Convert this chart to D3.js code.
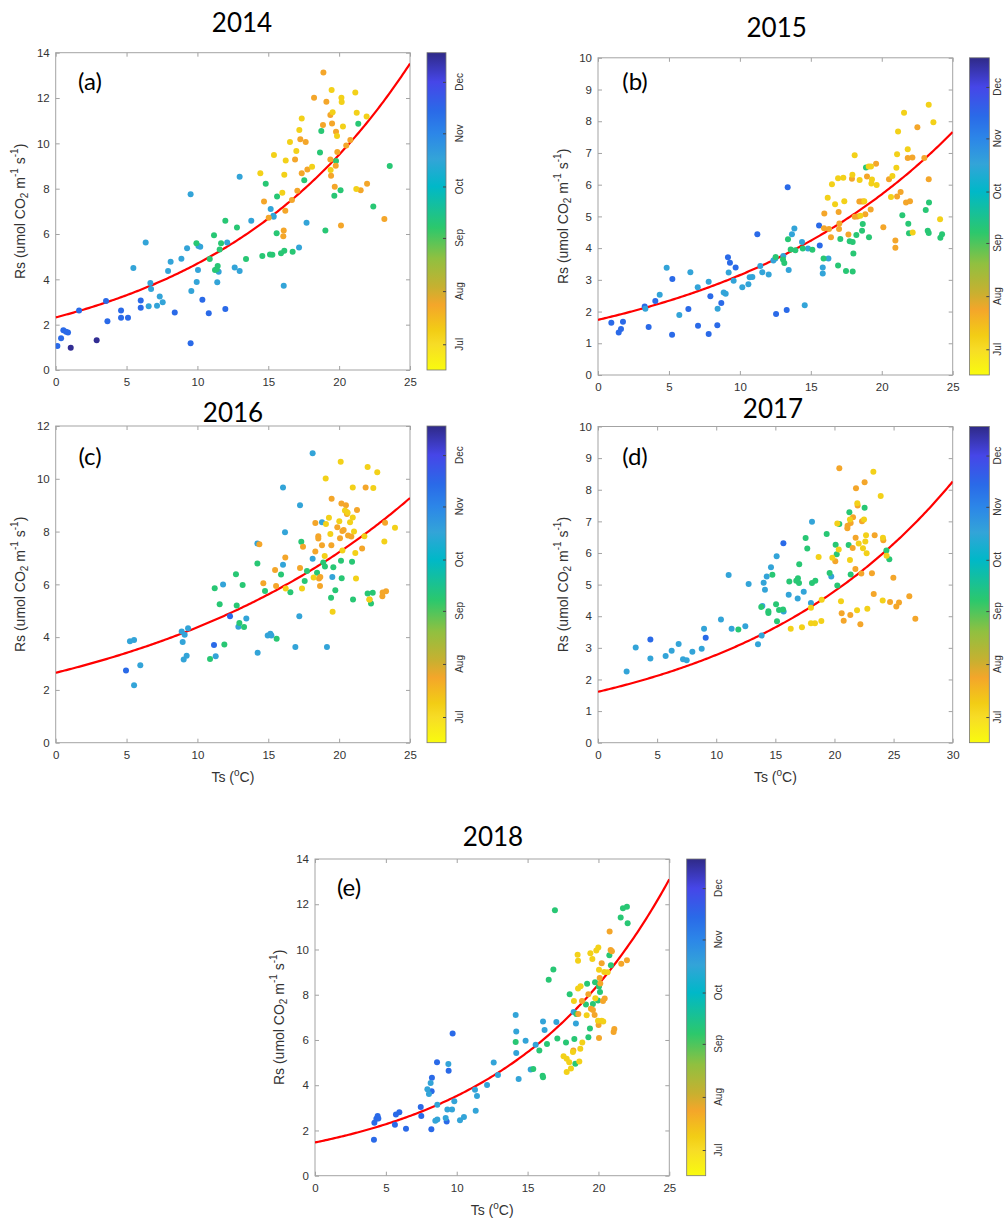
<!DOCTYPE html>
<html><head><meta charset="utf-8">
<script src="https://cdn.jsdelivr.net/npm/d3@7"></script>
<style>body{margin:0;background:#fff}svg{display:block}</style>
</head><body>
<script>
// ---------------- DATA ----------------
const years = ["2014","2015","2016","2017","2018"];
const panelLetters = ["(a)","(b)","(c)","(d)","(e)"];
const monthLabels = ["Jul","Aug","Sep","Oct","Nov","Dec"];
const monthStartDoy = [182,213,244,274,305,335];
const doyRange = [167,352];
const cmapDoy = [167,182,190,205,215,232,250,274,290,305,318,335,352];
const cmapHex = ["#f9fb0e","#f7dc26","#f2cd15","#f4a62a","#c8b030","#90c040","#2cc86c","#00b8c8","#33a4d8","#2c86e8","#2a6ae8","#4646e8","#2f2a88"];
const fitA = [2.32,1.74,2.65,1.61,1.47];
const fitB = [0.0705,0.0593,0.0501,0.0545,0.0875];
const xMax = [25,25,25,30,25];
const yMax = [14,10,12,10,14];
const yStep = [2,1,2,1,2];

// [Ts, Rs, day-of-year]
const pts2014 = [
[0.12,1.06,318],[0.38,1.40,318],[0.54,1.75,318],[0.73,1.69,318],[0.87,1.65,318],[1.06,0.98,350],[1.65,2.62,318],[2.89,1.31,350],[3.55,3.04,318],[3.65,2.15,318],[4.61,2.62,318],[4.61,2.31,318],[5.10,2.31,318],[6.00,3.07,318],[6.00,2.75,318],[8.40,2.54,318],[9.52,1.18,318],[10.35,3.10,318],[10.80,2.50,318],[11.97,2.69,318],
[5.48,4.50,290],[6.35,5.63,290],[6.68,3.84,290],[6.73,3.57,290],[6.56,2.81,290],[7.15,2.84,290],[7.34,3.24,290],[7.55,2.99,290],[7.93,4.37,290],[8.11,4.78,290],[8.87,4.91,290],[9.27,5.37,290],[9.52,7.76,290],[9.57,3.49,290],[9.95,3.88,290],[10.07,5.47,290],[10.20,5.44,290],[10.04,4.41,290],[11.40,3.87,290],[11.50,4.34,290],[12.10,5.63,290],[12.63,4.52,290],[12.98,4.37,290],[12.98,8.53,290],[13.80,6.59,290],[15.17,7.10,290],[15.36,6.81,290],[15.38,6.76,290],[16.09,3.72,290],[17.17,5.41,290],[17.70,6.50,290],
[9.93,5.59,252],[10.87,4.90,252],[11.17,5.94,252],[11.24,4.41,252],[11.36,4.44,252],[11.43,4.59,252],[11.57,5.32,252],[11.67,5.59,252],[11.97,6.59,252],[12.79,6.29,252],[13.43,4.90,252],[14.58,5.03,252],[14.82,8.22,252],[15.12,5.10,252],[15.29,5.09,252],[15.59,6.03,252],[15.62,7.65,252],[15.90,5.15,252],[16.13,5.26,252],[16.72,5.22,252],[17.54,8.37,252],[18.65,9.60,252],[18.74,10.54,252],[19.03,6.15,252],[19.66,7.69,252],[19.78,9.22,252],[20.10,7.93,252],[21.35,10.87,252],[22.41,7.21,252],[23.57,9.00,252],
[14.70,7.43,205],[15.03,6.72,205],[16.20,7.03,205],[16.09,6.16,205],[16.06,5.90,205],[16.67,7.50,205],[16.89,9.29,205],[17.05,7.91,205],[17.26,10.18,205],[17.36,8.68,205],[17.64,10.06,205],[17.76,8.85,205],[18.23,12.01,205],[18.89,13.13,205],[18.86,10.81,205],[19.10,11.84,205],[19.38,11.25,205],[19.43,8.57,205],[19.50,10.88,205],[19.38,9.29,205],[19.69,8.09,205],[19.76,9.01,205],[19.78,10.51,205],[19.87,9.62,205],[20.13,6.38,205],[20.50,9.91,205],[20.79,10.15,205],[21.52,7.93,205],[21.97,8.22,205],[23.19,6.66,205],
[14.44,8.68,188],[15.40,9.49,188],[15.99,7.82,188],[16.13,8.62,188],[16.23,9.24,188],[16.53,10.06,188],[16.98,9.66,188],[17.19,10.59,188],[17.36,11.10,188],[18.09,8.97,188],[19.47,12.35,188],[19.54,11.37,188],[19.40,8.82,188],[19.85,10.32,188],[20.16,12.01,188],[20.18,11.82,188],[20.27,10.74,188],[21.14,12.24,188],[21.24,11.35,188],[21.21,7.99,188],[21.94,11.19,188]
];
const pts2015 = [
[0.94,1.65,318],[1.46,1.34,318],[1.62,1.45,318],[1.76,1.68,318],[3.29,2.16,318],[3.57,1.51,318],[4.04,2.33,318],[5.22,1.27,318],[5.24,3.03,318],[6.37,2.08,318],[7.05,1.55,318],[7.80,1.29,318],[7.92,2.48,318],[8.41,1.57,318],[8.69,2.27,318],[9.16,3.71,318],[9.30,3.54,318],[9.70,3.39,318],[11.23,4.44,318],[12.55,1.92,318],[13.30,2.05,318],[13.37,5.92,318],[15.58,4.71,318],[15.63,4.08,318],
[3.34,2.09,290],[4.35,2.53,290],[4.84,3.38,290],[5.73,1.89,290],[6.51,3.24,290],[7.03,2.77,290],[7.80,2.94,290],[8.43,2.09,290],[8.86,2.60,290],[9.00,2.56,290],[9.21,3.23,290],[9.56,2.97,290],[10.17,2.77,290],[10.60,2.86,290],[10.69,3.08,290],[10.88,3.09,290],[11.44,3.44,290],[11.58,3.24,290],[12.03,3.17,290],[12.36,3.61,290],[12.50,3.67,290],[13.06,3.75,290],[13.44,3.31,290],[13.67,4.44,290],[13.84,4.62,290],[14.38,4.19,290],[14.57,2.20,290],[14.80,3.99,290],[15.84,3.39,290],[15.84,3.20,290],[16.24,3.67,290],
[12.52,3.72,252],[13.04,3.64,252],[13.13,3.53,252],[13.39,4.28,252],[13.58,3.96,252],[13.91,3.93,252],[14.43,3.99,252],[15.11,3.95,252],[15.90,3.67,252],[16.92,3.45,252],[17.08,4.29,252],[17.48,3.28,252],[17.74,4.22,252],[17.95,4.19,252],[17.95,3.26,252],[18.00,3.83,252],[18.21,4.41,252],[18.61,4.55,252],[18.66,4.76,252],[18.89,6.54,252],[19.10,4.34,252],[21.45,5.04,252],[21.87,4.77,252],[21.92,4.47,252],[23.10,5.20,252],[23.24,4.55,252],[23.31,4.48,252],[23.33,5.44,252],[24.13,4.33,252],[24.25,4.44,252],
[15.95,5.09,205],[15.93,4.63,205],[16.28,4.60,205],[16.42,4.34,205],[16.96,5.14,205],[16.99,4.60,205],[17.01,4.78,205],[17.65,4.43,205],[17.90,6.19,205],[18.09,4.99,205],[18.28,5.00,205],[18.42,5.47,205],[18.56,5.47,205],[18.70,5.47,205],[18.84,5.07,205],[18.96,6.26,205],[19.22,5.22,205],[19.60,6.66,205],[20.11,4.66,205],[20.51,6.17,205],[20.96,4.01,205],[20.96,4.24,205],[21.08,5.63,205],[21.33,5.77,205],[21.71,5.44,205],[21.83,6.84,205],[21.99,5.48,205],[22.16,6.86,205],[22.51,7.81,205],[23.00,6.84,205],[23.31,6.17,205],
[16.19,5.59,188],[16.49,6.01,188],[16.71,5.38,188],[16.92,6.20,188],[17.29,6.22,188],[17.36,5.48,188],[17.93,6.31,188],[18.09,6.93,188],[18.44,6.15,188],[18.49,5.02,188],[18.77,5.48,188],[19.08,6.57,188],[19.24,6.57,188],[19.31,6.16,188],[19.27,6.04,188],[19.64,5.99,188],[20.65,5.61,188],[20.75,6.27,188],[21.03,6.53,188],[21.08,6.96,188],[21.15,7.68,188],[21.57,8.27,188],[21.83,7.12,188],[22.18,4.49,188],[23.31,8.52,188],[23.64,7.97,188],[24.11,4.91,188]
];
const pts2016 = [
[4.96,2.74,318],[11.17,3.70,318],[12.30,4.79,318],
[5.24,3.84,290],[5.53,3.89,290],[5.53,2.18,290],[5.97,2.93,290],[8.89,4.21,290],[9.10,4.09,290],[8.96,3.82,290],[9.34,4.34,290],[9.03,3.15,290],[9.24,3.29,290],[11.29,3.28,290],[11.81,5.99,290],[12.89,4.39,290],[13.45,4.71,290],[14.23,7.55,290],[14.25,3.41,290],[14.96,4.06,290],[15.15,4.13,290],[15.22,4.06,290],[16.04,9.67,290],[16.04,6.74,290],[16.18,7.97,290],[16.91,3.63,290],[17.24,9.00,290],[17.19,4.79,290],[18.13,10.97,290],[18.13,6.97,290],[18.79,8.35,290],[19.14,3.63,290],[19.52,6.28,290],
[10.89,3.17,252],[11.22,5.85,252],[11.57,5.25,252],[11.90,3.72,252],[12.72,6.38,252],[12.77,5.20,252],[12.96,4.54,252],[13.19,5.98,252],[13.29,4.38,252],[14.23,6.79,252],[14.77,5.75,252],[15.59,3.94,252],[15.90,6.37,252],[16.56,5.70,252],[17.33,7.61,252],[17.57,6.13,252],[17.73,6.51,252],[18.44,6.44,252],[18.88,6.83,252],[19.00,6.68,252],[19.43,5.49,252],[19.59,6.65,252],[19.73,5.78,252],[20.13,6.89,252],[20.18,6.23,252],[20.91,6.86,252],[20.98,5.43,252],[22.01,5.65,252],[22.25,5.27,252],[22.37,5.68,252],
[14.37,7.52,205],[14.65,6.04,205],[15.48,6.54,205],[15.55,5.94,205],[16.20,7.02,205],[17.24,6.62,205],[17.45,7.42,205],[18.32,7.24,205],[18.32,8.32,205],[18.53,7.82,205],[18.53,7.74,205],[18.58,6.22,205],[18.67,6.28,205],[18.65,5.94,205],[18.79,7.48,205],[19.47,9.24,205],[19.45,7.48,205],[19.87,8.16,205],[20.06,7.75,205],[20.16,9.06,205],[20.23,8.02,205],[20.32,8.06,205],[20.48,9.00,205],[20.53,8.74,205],[20.55,8.67,205],[20.63,7.85,205],[20.86,7.81,205],[21.26,8.82,205],[21.62,7.36,205],[21.87,9.67,205],[22.15,5.43,205],[23.05,5.55,205],[23.07,5.69,205],[23.24,8.33,205],[23.31,5.74,205],
[16.23,5.84,188],[17.38,5.84,188],[18.20,6.26,188],[18.98,7.07,188],[19.05,10.01,188],[19.07,8.29,188],[19.28,8.52,188],[19.38,7.91,188],[19.54,4.96,188],[20.01,8.39,188],[20.11,10.65,188],[20.23,7.28,188],[20.41,8.80,188],[20.60,8.71,188],[20.77,8.35,188],[20.96,8.53,188],[20.96,9.67,188],[21.05,8.00,188],[21.14,7.19,188],[21.19,6.22,188],[21.78,7.82,188],[22.01,10.45,188],[22.13,5.43,188],[22.41,9.65,188],[22.69,10.25,188],[23.19,7.62,188],[23.94,8.14,188]
];
const pts2017 = [
[2.42,2.25,290],[3.19,3.01,290],[4.43,2.66,290],[5.72,2.74,290],[6.23,2.91,290],[6.82,3.12,290],[7.19,2.64,290],[7.50,2.61,290],[7.98,2.88,290],[8.77,2.97,290],[8.97,3.60,290],[10.40,3.90,290],[11.05,5.30,290],[11.30,3.60,290],[12.46,3.68,290],[12.74,5.02,290],[13.53,3.11,290],[13.84,3.39,290],[13.90,4.32,290],[14.01,5.06,290],[14.12,4.84,290],[14.27,5.26,290],[14.63,5.55,290],[15.11,5.90,290],[15.70,4.15,290],[16.13,4.68,290],[16.89,4.56,290],[17.40,4.77,290],[18.01,4.42,290],[18.10,6.99,290],[19.73,5.26,290],
[4.43,3.26,318],[9.11,3.32,318],[15.68,6.31,318],
[11.87,3.58,252],[13.81,4.29,252],[14.41,4.10,252],[14.41,4.16,252],[14.75,5.31,252],[15.06,4.38,252],[15.14,3.84,252],[15.31,4.20,252],[15.65,4.21,252],[16.18,5.10,252],[16.77,5.12,252],[16.91,5.20,252],[17.00,5.05,252],[17.02,5.64,252],[17.56,6.47,252],[17.70,6.14,252],[18.10,5.05,252],[18.38,5.12,252],[19.34,6.60,252],[19.59,5.37,252],[20.10,6.26,252],[20.19,5.96,252],[20.24,4.97,252],[20.41,6.92,252],[21.20,6.25,252],[21.26,7.29,252],[21.37,5.32,252],[22.55,7.43,252],[24.39,6.08,252],[24.64,5.80,252],
[20.41,8.68,205],[20.07,5.74,205],[20.61,4.09,205],[20.78,3.86,205],[21.09,6.78,205],[21.11,6.86,205],[21.37,6.95,205],[21.34,4.04,205],[21.57,7.13,205],[21.54,6.16,205],[21.77,5.49,205],[21.79,6.48,205],[21.82,8.05,205],[21.96,7.50,205],[22.19,3.75,205],[22.27,5.35,205],[22.33,7.00,205],[22.55,8.24,205],[23.17,5.36,205],[23.32,4.70,205],[23.40,6.56,205],[24.13,6.40,205],[24.70,4.45,205],[24.98,5.22,205],[25.23,4.31,205],[25.46,4.43,205],[26.33,4.63,205],[26.84,3.92,205],
[16.30,3.60,188],[17.25,3.65,188],[18.01,4.27,188],[18.01,3.78,188],[18.35,3.78,188],[18.66,5.87,188],[18.89,3.85,188],[18.92,4.52,188],[19.82,5.85,188],[20.24,6.93,188],[20.36,6.11,188],[20.55,4.47,188],[21.31,5.78,188],[21.31,7.06,188],[21.91,4.19,188],[21.93,7.57,188],[22.05,6.30,188],[22.41,6.15,188],[22.50,7.06,188],[22.61,6.36,188],[22.67,6.56,188],[22.72,5.99,188],[22.78,4.24,188],[23.29,8.57,188],[23.91,7.80,188],[24.08,4.50,188],[24.10,6.48,188],[24.41,5.91,188]
];
const pts2018 = [
[4.16,1.59,318],[4.19,2.34,318],[4.33,2.52,318],[4.42,2.64,318],[4.47,2.53,318],[5.64,2.25,318],[5.71,2.70,318],[5.95,2.80,318],[6.42,2.08,318],[7.46,3.04,318],[7.50,2.64,318],[8.21,2.05,318],[8.23,3.73,318],[8.25,4.33,318],[8.61,5.01,318],[9.29,2.40,318],[9.43,4.64,318],[9.71,6.29,318],
[7.93,3.82,290],[8.04,3.61,290],[8.16,4.10,290],[8.49,2.43,290],[8.63,2.48,290],[8.63,3.14,290],[9.22,2.55,290],[9.34,2.93,290],[9.41,4.94,290],[9.67,2.93,290],[9.83,3.29,290],[10.23,2.45,290],[10.51,2.59,290],[11.29,3.80,290],[11.34,2.87,290],[11.43,3.52,290],[12.14,4.01,290],[12.61,5.00,290],[12.91,4.45,290],[14.16,7.10,290],[14.20,6.37,290],[14.20,5.42,290],[14.37,4.27,290],[14.86,5.97,290],[15.22,4.69,290],[15.57,5.79,290],[16.09,6.82,290],[16.20,6.44,290],[17.03,6.79,290],[18.25,7.24,290],[18.41,6.73,290],
[14.16,5.91,252],[15.40,4.72,252],[15.83,5.54,252],[16.06,4.42,252],[16.09,4.35,252],[16.37,5.82,252],[16.49,8.66,252],[16.82,9.11,252],[16.93,11.73,252],[17.10,6.06,252],[17.71,5.89,252],[17.97,8.02,252],[18.30,6.04,252],[18.37,4.95,252],[18.44,7.15,252],[19.12,7.57,252],[19.20,8.49,252],[19.29,6.12,252],[19.40,6.51,252],[19.61,7.59,252],[19.76,8.55,252],[19.97,7.75,252],[20.04,8.36,252],[20.11,8.12,252],[20.77,9.74,252],[20.88,9.30,252],[21.57,11.41,252],[21.73,11.82,252],[22.01,11.89,252],[22.06,11.16,252],
[18.23,5.53,205],[18.58,7.15,205],[18.84,7.72,205],[19.29,8.02,205],[19.47,7.38,205],[19.61,7.32,205],[19.73,7.10,205],[20.01,6.66,205],[20.04,6.09,205],[20.09,8.74,205],[20.13,8.50,205],[20.23,9.39,205],[20.32,7.72,205],[20.44,7.83,205],[20.79,10.80,205],[20.86,9.98,205],[20.95,9.92,205],[21.07,6.35,205],[21.12,6.48,205],[21.61,9.37,205],[22.01,9.52,205],
[17.54,5.28,188],[17.76,5.17,188],[17.76,4.58,188],[17.94,5.02,188],[18.06,4.74,188],[18.20,5.47,188],[18.27,7.72,188],[18.53,9.77,188],[18.56,9.50,188],[18.56,8.28,188],[18.72,5.61,188],[18.74,8.37,188],[18.65,5.05,188],[18.86,5.89,188],[19.17,7.09,188],[19.43,9.83,188],[19.57,9.58,188],[19.85,9.95,188],[19.99,10.09,188],[19.78,7.84,188],[19.97,6.85,188],[20.23,6.85,188],[20.34,6.82,188],[20.41,9.00,188],[20.65,8.99,188],[20.04,9.10,188]
];
const allPts = [pts2014, pts2015, pts2016, pts2017, pts2018];

// ---------------- LAYOUT ----------------
const layout = [
 {l:55.7,r:410,t:52.7,b:370,cbl:427,cbr:446,tx:242,ty:22,lx:90,ly:80,ylx:20,xlab:false},
 {l:598,r:952.7,t:57.8,b:375,cbl:969.5,cbr:989.3,tx:776.7,ty:27,lx:635,ly:80,ylx:562.7,xlab:false},
 {l:55.7,r:410,t:426,b:742.7,cbl:427,cbr:446,tx:233,ty:411.7,lx:90,ly:455,ylx:20,xlab:true},
 {l:598,r:952.7,t:426.5,b:742.7,cbl:969.5,cbr:989.3,tx:773,ty:407.7,lx:635,ly:455,ylx:562.7,xlab:true},
 {l:315,r:669.3,t:859,b:1175.7,cbl:686.7,cbr:705.7,tx:493,ty:836,lx:349,ly:886,ylx:279.3,xlab:true}
];
const axisColor = "#a3a3a3";
const textColor = "#333";
const sans = "'Liberation Sans', Arial, sans-serif";
const titleFont = "Lato, 'Open Sans', sans-serif";
const pageW = 1005;

const color = d3.scaleLinear().domain(cmapDoy).range(cmapHex).interpolate(d3.interpolateRgb).clamp(true);

const svg = d3.select("body").append("svg").attr("width",pageW).attr("height",1220)
  .style("background","#fff");
const defs = svg.append("defs");

const grad = defs.append("linearGradient").attr("id","cbgrad")
  .attr("x1",0).attr("y1",1).attr("x2",0).attr("y2",0);
cmapDoy.forEach((d,i)=>{
  grad.append("stop").attr("offset",(d-doyRange[0])/(doyRange[1]-doyRange[0])).attr("stop-color",cmapHex[i]);
});

layout.forEach((L,i)=>{
  const g = svg.append("g");
  const x = d3.scaleLinear().domain([0,xMax[i]]).range([L.l,L.r]);
  const y = d3.scaleLinear().domain([0,yMax[i]]).range([L.b,L.t]);
  const xt = d3.range(0,xMax[i]+0.001,5);
  const yt = d3.range(0,yMax[i]+0.001,yStep[i]);

  const clipId = "clip"+i;
  defs.append("clipPath").attr("id",clipId).append("rect")
    .attr("x",L.l).attr("y",L.t).attr("width",L.r-L.l).attr("height",L.b-L.t);

  const ax = (gen, tr, labels) => {
    const a = g.append("g").attr("transform",tr).call(gen);
    a.select(".domain").remove();
    a.selectAll(".tick line").attr("stroke",axisColor);
    a.selectAll("text").attr("fill",textColor).style("font-family",sans).style("font-size","11.5px");
    if(!labels) a.selectAll("text").remove();
    return a;
  };
  ax(d3.axisBottom(x).tickValues(xt).tickSize(-4).tickPadding(8).tickFormat(d3.format("d")),`translate(0,${L.b})`,true);
  ax(d3.axisTop(x).tickValues(xt).tickSize(-4).tickFormat(""),`translate(0,${L.t})`,false);
  ax(d3.axisLeft(y).tickValues(yt).tickSize(-4).tickPadding(6).tickFormat(d3.format("d")),`translate(${L.l},0)`,true);
  ax(d3.axisRight(y).tickValues(yt).tickSize(-4).tickFormat(""),`translate(${L.r},0)`,false);
  g.append("rect").attr("x",L.l).attr("y",L.t).attr("width",L.r-L.l).attr("height",L.b-L.t)
    .attr("fill","none").attr("stroke",axisColor).attr("stroke-width",1);

  const tsGrid = d3.range(0,xMax[i]+0.0001,xMax[i]/200);
  const line = d3.line().x(t=>x(t)).y(t=>y(fitA[i]*Math.exp(fitB[i]*t)));
  g.append("path").datum(tsGrid).attr("d",line).attr("fill","none")
    .attr("stroke","#ff0000").attr("stroke-width",2.2).attr("clip-path",`url(#${clipId})`);

  g.append("g").attr("clip-path",`url(#${clipId})`).selectAll("circle").data(allPts[i]).join("circle")
    .attr("cx",d=>x(d[0])).attr("cy",d=>y(d[1])).attr("r",3)
    .attr("fill",d=>color(d[2]));

  g.append("text").attr("x",L.tx).attr("y",L.ty).attr("text-anchor","middle").attr("dominant-baseline","central")
    .style("font-family",titleFont).style("font-size","26px").attr("fill","#000").text(years[i]);
  g.append("text").attr("x",L.lx).attr("y",L.ly).attr("text-anchor","middle").attr("dominant-baseline","central")
    .style("font-family",titleFont).style("font-size","24px").attr("fill","#000").text(panelLetters[i]);

  const yl = g.append("text").attr("transform",`translate(${L.ylx},${(L.t+L.b)/2}) rotate(-90)`)
    .attr("text-anchor","middle").attr("dominant-baseline","central")
    .style("font-family",sans).style("font-size","14px").attr("fill",textColor);
  yl.append("tspan").text("Rs (umol CO");
  yl.append("tspan").attr("dy",4).style("font-size","10px").text("2");
  yl.append("tspan").attr("dy",-4).text(" m");
  yl.append("tspan").attr("dy",-6).style("font-size","10px").text("-1");
  yl.append("tspan").attr("dy",6).text(" s");
  yl.append("tspan").attr("dy",-6).style("font-size","10px").text("-1");
  yl.append("tspan").attr("dy",6).text(")");

  if(L.xlab){
    const xl = g.append("text").attr("x",(L.l+L.r)/2).attr("y",L.b+39)
      .attr("text-anchor","middle").style("font-family",sans).style("font-size","14px").attr("fill",textColor);
    xl.append("tspan").text("Ts (");
    xl.append("tspan").attr("dy",-6).style("font-size","10px").text("o");
    xl.append("tspan").attr("dy",6).text("C)");
  }

  const cy = d3.scaleLinear().domain(doyRange).range([L.b,L.t]);
  g.append("rect").attr("x",L.cbl).attr("y",L.t).attr("width",L.cbr-L.cbl).attr("height",L.b-L.t)
    .attr("fill","url(#cbgrad)").attr("stroke","#777").attr("stroke-width",0.8);
  const cbAx = g.append("g").attr("transform",`translate(${L.cbr},0)`)
    .call(d3.axisRight(cy).tickValues(monthStartDoy).tickSize(-3).tickFormat(""));
  cbAx.select(".domain").remove();
  cbAx.selectAll(".tick line").attr("stroke","#444");
  const labX = Math.min(L.cbr+13, pageW-8);
  g.selectAll(null).data(monthStartDoy).join("text")
    .attr("transform",(d)=>`translate(${labX},${cy(d)}) rotate(-90)`)
    .attr("text-anchor","middle").attr("dominant-baseline","central")
    .style("font-family",sans).style("font-size","10px").attr("fill",textColor)
    .text((d,k)=>monthLabels[k]);
});
</script>
</body></html>
